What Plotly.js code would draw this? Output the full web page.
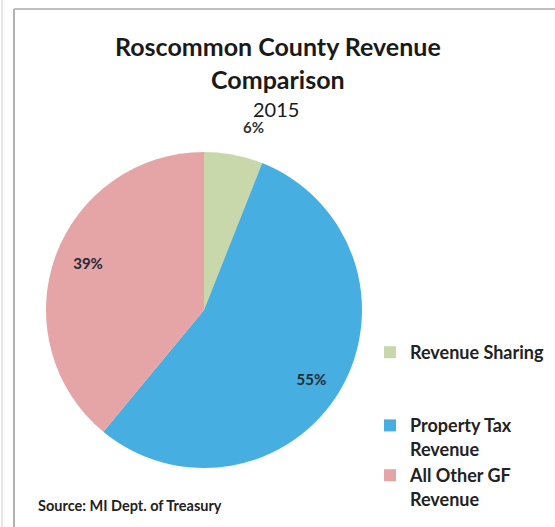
<!DOCTYPE html>
<html><head><meta charset="utf-8">
<script src="https://cdn.plot.ly/plotly-3.0.1.min.js"></script>
<style>html,body{margin:0;padding:0;background:#fff}#c{width:555px;height:527px}</style>
</head><body><div id="c"></div>
<script>
const categories = ["Revenue Sharing", "Property Tax<br>Revenue", "All Other GF<br>Revenue"];
const shares = [6, 55, 39];
const sliceColors = ["#c8d8aa", "#47aee2", "#e5a5a6"];
const titleMain = "Roscommon County Revenue<br>Comparison";
const subTitle = "2015";
const sourceNote = "Source: MI Dept. of Treasury";

const W = 555, H = 527;
const cx = 204, cy = 310, r = 158;
const E = "\u2003";
// legend labels with blank spacer lines to mimic the reference spacing
const legendLabels = categories.map((c, i) => i === 0 ? c + "<br>" + E + "<br>" + E : c);
const trace = {
  type: "pie",
  labels: legendLabels,
  values: shares,
  sort: false,
  direction: "clockwise",
  rotation: 0,
  marker: {colors: sliceColors, line: {color: "#ffffff", width: 0}},
  texttemplate: [
    "%{percent:.0%}<br>" + E,
    E.repeat(3) + "<br>" + E + "<br>" + E + "<br>" + E.repeat(7) + "%{percent:.0%}",
    "%{percent:.0%}" + E.repeat(7) + "<br>" + E + "<br>" + E
  ],
  textposition: ["outside", "inside", "inside"],
  insidetextorientation: "horizontal",
  textfont: {family: "Lato, sans-serif", size: 15, color: "#1e2a33", weight: "bold"},
  outsidetextfont: {family: "Lato, sans-serif", size: 15, color: "#333333", weight: "bold"},
  automargin: false,
  hoverinfo: "none",
  domain: {x: [(cx - r) / W, (cx + r) / W], y: [(H - cy - r) / H, (H - cy + r) / H]}
};
const layout = {
  width: W, height: H,
  margin: {l: 0, r: 0, t: 0, b: 0},
  paper_bgcolor: "#ffffff",
  showlegend: true,
  legend: {
    x: 370 / W, y: 1 - 334 / H, xanchor: "left", yanchor: "top",
    font: {family: "Lato, sans-serif", size: 18, color: "#222222", weight: "bold"},
    itemwidth: 30, valign: "top",
    traceorder: "normal"
  },
  annotations: [
    {text: "<b>" + titleMain + "</b>", x: 278 / W, y: 1 - 29 / H, xref: "paper", yref: "paper",
     xanchor: "center", yanchor: "top", showarrow: false,
     font: {family: "Lato, sans-serif", size: 25, color: "#1a1a1a"}},
    {text: subTitle, x: 276 / W, y: 1 - 95 / H, xref: "paper", yref: "paper",
     xanchor: "center", yanchor: "top", showarrow: false,
     font: {family: "Lato, sans-serif", size: 20, color: "#1a1a1a"}},
    {text: "<b>" + sourceNote + "</b>", x: 36 / W, y: 1 - 505 / H, xref: "paper", yref: "paper",
     xanchor: "left", yanchor: "middle", showarrow: false,
     font: {family: "Lato, sans-serif", size: 14.5, color: "#222222"}}
  ],
  shapes: [
    {type: "line", xref: "paper", yref: "paper", x0: 14 / W, x1: 14 / W, y0: 0, y1: 1 - 9 / H, line: {color: "#999999", width: 1.5}},
    {type: "line", xref: "paper", yref: "paper", x0: 14 / W, x1: 1, y0: 1 - 9 / H, y1: 1 - 9 / H, line: {color: "#aaaaaa", width: 1.5}},
    {type: "line", xref: "paper", yref: "paper", x0: 2 / W, x1: 2 / W, y0: 0, y1: 1, line: {color: "#cccccc", width: 1}}
  ]
};
Plotly.newPlot("c", [trace], layout, {displayModeBar: false, staticPlot: true});
</script></body></html>
